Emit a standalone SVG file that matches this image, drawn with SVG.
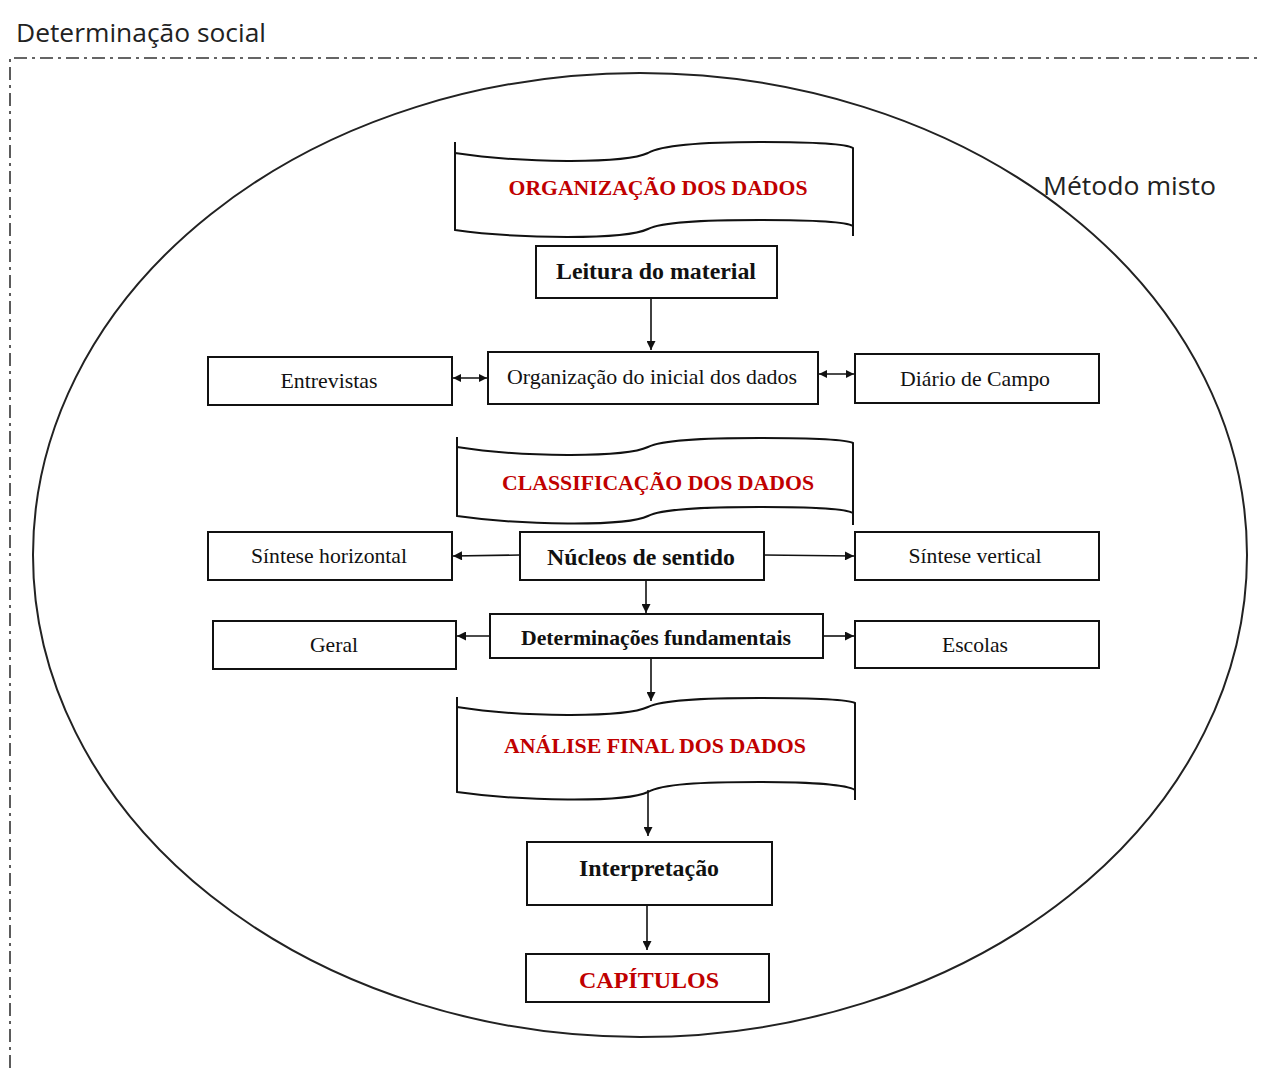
<svg xmlns="http://www.w3.org/2000/svg" width="1261" height="1068" viewBox="0 0 1261 1068">
<style>
.box{fill:#fff;stroke:#111;stroke-width:2}
.tape{fill:#fff;stroke:#111;stroke-width:2}
.tl{stroke:#111;stroke-width:2;fill:none}
.t{font-family:"Liberation Serif","Times New Roman",serif;fill:#111;text-anchor:middle}
.b{font-weight:bold}
.red{fill:#c00000;font-weight:bold}
.sans{font-family:"Open Sans","Liberation Sans",sans-serif;fill:#222}
.con{stroke:#111;stroke-width:1.6;fill:none}
</style>
<defs>
<marker id="ah" viewBox="0 0 10 10" refX="10" refY="5" markerWidth="9" markerHeight="8" orient="auto-start-reverse" markerUnits="userSpaceOnUse">
<path d="M0,0 L10,5 L0,10 Z" fill="#111"/>
</marker>
<marker id="a" viewBox="0 0 10 10" refX="10" refY="5" markerWidth="10" markerHeight="9" orient="auto-start-reverse" markerUnits="userSpaceOnUse">
<path d="M0,0 L10,5 L0,10 Z" fill="#111"/>
</marker>
</defs>
<rect width="1261" height="1068" fill="#fff"/>

<g id="frame">
<path d="M10,1068 L10,58 L1261,58" fill="none" stroke="#333" stroke-width="1.6" stroke-dasharray="13,5,3,5"/>
<text class="sans" x="16" y="42" font-size="26" textLength="250" lengthAdjust="spacingAndGlyphs">Determinação social</text>
</g>

<g id="metodo">
<ellipse cx="640" cy="555" rx="607" ry="482" fill="none" stroke="#222" stroke-width="2"/>
<text class="sans" x="1043" y="195" font-size="26" textLength="173" lengthAdjust="spacingAndGlyphs">Método misto</text>
</g>

<g id="org-banner">
<path class="tape" d="M455,153 C520,163 625,164 648,153 C662,145 700,142 760,142 C810,142 845,143 853,148 L853,226 C845,221 810,220 760,220 C700,220 662,222 648,229 C625,240 520,239 455,230 Z"/>
<path class="tl" d="M455,142 L455,153 M853,226 L853,236"/>
<text class="t red" x="658" y="195" font-size="22" textLength="299" lengthAdjust="spacingAndGlyphs">ORGANIZAÇÃO DOS DADOS</text>
</g>

<g id="leitura">
<rect class="box" x="536" y="246" width="241" height="52"/>
<text class="t b" x="656" y="279" font-size="23" textLength="200" lengthAdjust="spacingAndGlyphs">Leitura do material</text>
</g>

<g id="org-inicial">
<rect class="box" x="488" y="352" width="330" height="52"/>
<text class="t" x="652" y="384" font-size="21" textLength="290" lengthAdjust="spacingAndGlyphs">Organização do inicial dos dados</text>
</g>

<g id="entrevistas">
<rect class="box" x="208" y="357" width="244" height="48"/>
<text class="t" x="329" y="388" font-size="21" textLength="97" lengthAdjust="spacingAndGlyphs">Entrevistas</text>
</g>

<g id="diario">
<rect class="box" x="855" y="354" width="244" height="49"/>
<text class="t" x="975" y="386" font-size="21" textLength="150" lengthAdjust="spacingAndGlyphs">Diário de Campo</text>
</g>

<g id="class-banner">
<path class="tape" d="M457,447 C520,457 625,458 648,447 C662,440 700,438 760,438 C810,438 845,439 853,443 L853,513 C845,508 810,507 760,507 C700,507 662,509 648,516 C625,527 520,525 457,516 Z"/>
<path class="tl" d="M457,437 L457,447 M853,513 L853,525"/>
<text class="t red" x="658" y="490" font-size="22" textLength="312" lengthAdjust="spacingAndGlyphs">CLASSIFICAÇÃO DOS DADOS</text>
</g>

<g id="sintese-h">
<rect class="box" x="208" y="532" width="244" height="48"/>
<text class="t" x="329" y="563" font-size="21" textLength="156" lengthAdjust="spacingAndGlyphs">Síntese horizontal</text>
</g>

<g id="nucleos">
<rect class="box" x="520" y="532" width="244" height="48"/>
<text class="t b" x="641" y="565" font-size="23" textLength="188" lengthAdjust="spacingAndGlyphs">Núcleos de sentido</text>
</g>

<g id="sintese-v">
<rect class="box" x="855" y="532" width="244" height="48"/>
<text class="t" x="975" y="563" font-size="21" textLength="133" lengthAdjust="spacingAndGlyphs">Síntese vertical</text>
</g>

<g id="determinacoes">
<rect class="box" x="490" y="614" width="333" height="44"/>
<text class="t b" x="656" y="645" font-size="21" textLength="270" lengthAdjust="spacingAndGlyphs">Determinações fundamentais</text>
</g>

<g id="geral">
<rect class="box" x="213" y="621" width="243" height="48"/>
<text class="t" x="334" y="652" font-size="21" textLength="48" lengthAdjust="spacingAndGlyphs">Geral</text>
</g>

<g id="escolas">
<rect class="box" x="855" y="621" width="244" height="47"/>
<text class="t" x="975" y="652" font-size="21" textLength="66" lengthAdjust="spacingAndGlyphs">Escolas</text>
</g>

<g id="analise-banner">
<path class="tape" d="M457,707 C520,717 625,718 648,707 C662,700 700,698 760,698 C810,698 847,699 855,703 L855,790 C847,785 810,782 760,782 C700,782 662,784 648,792 C625,803 520,801 457,792 Z"/>
<path class="tl" d="M457,697 L457,707 M855,790 L855,800"/>
<text class="t red" x="655" y="753" font-size="22" textLength="302" lengthAdjust="spacingAndGlyphs">ANÁLISE FINAL DOS DADOS</text>
</g>

<g id="interpretacao">
<rect class="box" x="527" y="842" width="245" height="63"/>
<text class="t b" x="649" y="876" font-size="23" textLength="140" lengthAdjust="spacingAndGlyphs">Interpretação</text>
</g>

<g id="capitulos">
<rect class="box" x="526" y="954" width="243" height="48"/>
<text class="t red" x="649" y="988" font-size="24" textLength="140" lengthAdjust="spacingAndGlyphs">CAPÍTULOS</text>
</g>

<g id="connectors">
<line class="con" x1="651" y1="299" x2="651" y2="350" marker-end="url(#a)"/>
<line class="con" x1="453" y1="378" x2="487" y2="378" marker-start="url(#ah)" marker-end="url(#ah)"/>
<line class="con" x1="819" y1="374" x2="854" y2="374" marker-start="url(#ah)" marker-end="url(#ah)"/>
<line class="con" x1="520" y1="555" x2="453" y2="556" marker-end="url(#a)"/>
<line class="con" x1="764" y1="555" x2="854" y2="556" marker-end="url(#a)"/>
<line class="con" x1="646" y1="580" x2="646" y2="613" marker-end="url(#a)"/>
<line class="con" x1="490" y1="636" x2="457" y2="636" marker-end="url(#a)"/>
<line class="con" x1="823" y1="636" x2="854" y2="636" marker-end="url(#a)"/>
<line class="con" x1="651" y1="658" x2="651" y2="701" marker-end="url(#a)"/>
<line class="con" x1="648" y1="790" x2="648" y2="836" marker-end="url(#a)"/>
<line class="con" x1="647" y1="905" x2="647" y2="950" marker-end="url(#a)"/>
</g>
</svg>
